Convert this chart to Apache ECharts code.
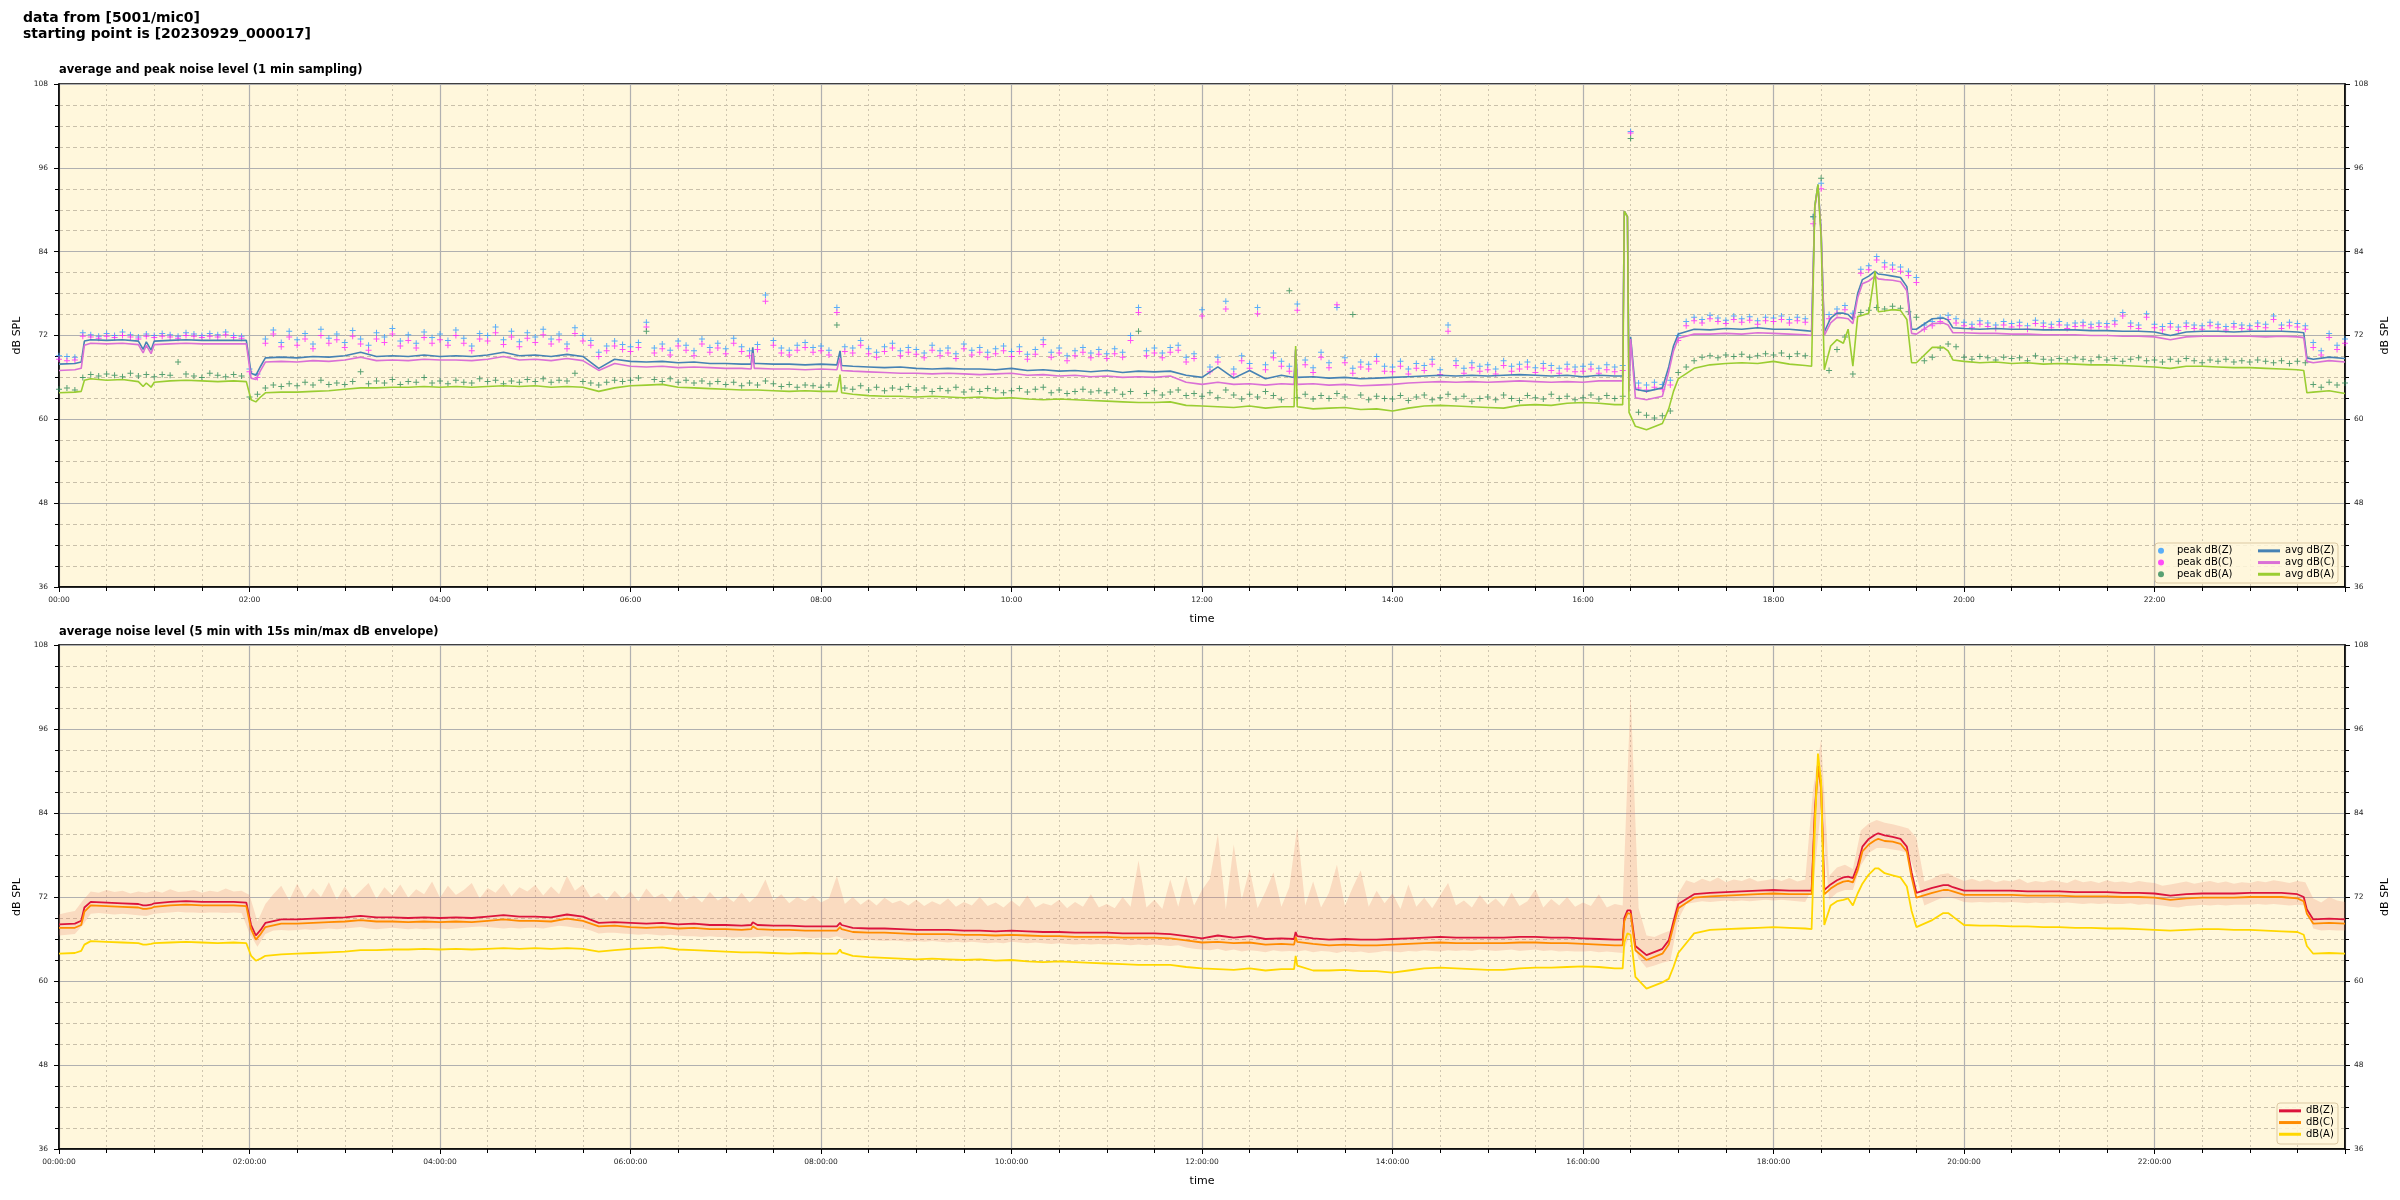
<!DOCTYPE html>
<html><head><meta charset="utf-8">
<script src="https://cdn.jsdelivr.net/npm/echarts@6/dist/echarts.min.js"></script>
<style>html,body{margin:0;padding:0;background:#fff}#c{width:2400px;height:1200px}</style>
</head><body><div id="c"></div>
<script>
// ---------- DATA (minutes since 00:00:17) ----------
const lineTimes = [0,10,14,16,20,30,40,50,53,55,58,60,
70,80,90,100,110,118,121,124,127,130,
140,150,160,170,180,190,200,210,220,230,240,250,260,270,280,290,300,310,320,330,340,350,360,
370,380,390,400,410,420,430,436,437,438,440,450,460,470,480,490,491,492,493,
500,510,520,530,540,550,560,570,580,590,600,610,620,630,640,650,660,670,680,690,700,710,720,730,740,750,760,770,
778,779,780,
790,800,810,820,830,840,850,860,870,880,890,900,910,920,930,940,950,960,970,980,
985,986,988,989,990,993,1000,1010,1014,1017,1020,
1030,1040,1050,1060,1070,1080,1090,1100,
1104,1106,1108,1110,1112,1116,1120,1124,1127,1130,1133,1136,1140,1144,1146,1150,1155,1160,1164,1167,1170,1180,1187,1190,1193,1200,
1210,1220,1230,1240,1250,1260,1270,1280,1290,1300,1310,1320,1330,1340,1350,1360,1370,1380,1390,1400,1410,
1414,1416,1420,1430,1440];

// top chart: 1-min averages
const avgZ = [67.9,68.0,68.2,71.2,71.4,71.3,71.4,71.2,70.0,71.1,69.9,71.2,
71.3,71.4,71.3,71.3,71.3,71.3,66.6,66.3,67.6,68.8,
68.9,68.8,69.0,68.9,69.1,69.6,69.0,69.1,69.0,69.2,69.0,69.1,69.0,69.2,69.6,69.1,69.2,69.0,69.3,69.0,67.3,68.6,68.3,
68.2,68.3,68.1,68.2,68.0,68.0,67.9,67.9,70.3,68.0,68.0,67.9,67.9,67.8,67.9,67.8,67.8,69.8,67.7,
67.6,67.5,67.4,67.5,67.3,67.2,67.3,67.2,67.2,67.1,67.3,67.0,67.1,66.9,67.0,66.8,67.0,66.7,66.9,66.8,66.9,66.3,66.0,67.5,65.9,67.0,65.8,66.3,
66.0,70.0,66.0,
66.1,65.9,66.0,65.8,65.9,66.0,66.1,66.2,66.3,66.2,66.3,66.2,66.3,66.4,66.3,66.2,66.3,66.1,66.3,66.2,
66.2,89.8,89.0,64.5,71.8,64.3,64.0,64.5,67.5,70.5,72.2,
72.9,72.8,73.0,72.9,73.1,72.9,72.9,72.7,
72.6,90.5,93.6,87.0,72.5,74.5,75.2,75.2,75.0,74.3,78.0,80.0,80.5,81.2,80.8,80.7,80.5,80.3,79.0,72.9,72.9,74.4,74.5,74.2,73.1,73.0,
72.9,73.0,72.9,72.9,72.8,72.8,72.8,72.7,72.7,72.6,72.6,72.5,72.0,72.5,72.6,72.6,72.5,72.6,72.6,72.6,72.5,
72.4,68.8,68.6,68.9,68.7];
const avgC = [67.0,67.1,67.3,70.6,70.9,70.8,70.9,70.7,69.5,70.6,69.4,70.7,
70.8,70.9,70.8,70.8,70.8,70.8,65.9,65.7,67.0,68.2,
68.3,68.2,68.4,68.3,68.5,68.9,68.4,68.5,68.4,68.6,68.5,68.5,68.4,68.6,69.0,68.5,68.6,68.4,68.7,68.4,67.0,68.0,67.6,
67.5,67.6,67.4,67.5,67.4,67.3,67.3,67.2,69.5,67.3,67.3,67.2,67.2,67.1,67.2,67.1,67.1,68.8,67.0,
66.9,66.8,66.7,66.6,66.6,66.5,66.6,66.5,66.4,66.5,66.6,66.3,66.4,66.2,66.3,66.1,66.2,66.0,66.1,66.0,66.2,65.3,65.0,65.3,65.0,65.1,64.9,65.1,
65.0,70.0,65.0,
65.1,64.9,65.0,64.8,64.9,65.0,65.2,65.3,65.4,65.3,65.4,65.3,65.4,65.5,65.4,65.3,65.4,65.3,65.5,65.5,
65.5,89.8,89.0,64.0,71.5,63.1,62.8,63.3,66.8,69.8,71.6,
72.2,72.2,72.3,72.2,72.4,72.3,72.2,72.1,
72.0,90.2,93.3,86.8,72.0,73.8,74.6,74.5,74.4,73.7,77.4,79.4,79.8,80.5,80.1,80.0,79.9,79.7,78.4,72.3,72.2,73.7,73.8,73.5,72.4,72.4,
72.3,72.3,72.2,72.2,72.1,72.1,72.1,72.0,72.0,71.9,71.9,71.8,71.4,71.8,71.9,71.9,71.9,71.9,71.8,71.9,71.8,
71.7,68.3,68.1,68.4,68.2];
const avgA = [63.8,63.9,64.0,65.6,65.8,65.6,65.7,65.4,64.7,65.2,64.6,65.3,
65.5,65.6,65.5,65.4,65.5,65.4,62.8,62.5,63.2,63.8,
63.9,63.9,64.0,64.1,64.3,64.5,64.5,64.6,64.6,64.7,64.6,64.7,64.6,64.7,64.8,64.7,64.8,64.6,64.7,64.6,64.0,64.5,64.8,
64.9,65.0,64.6,64.5,64.4,64.3,64.2,64.2,64.3,64.2,64.2,64.1,64.0,64.1,64.0,64.0,64.0,66.4,63.8,
63.6,63.4,63.3,63.3,63.2,63.3,63.2,63.1,63.2,63.0,63.1,62.9,62.8,62.9,62.8,62.7,62.6,62.5,62.4,62.4,62.5,62.0,61.9,61.8,61.7,61.9,61.6,61.8,
61.8,70.5,61.8,
61.5,61.6,61.7,61.4,61.5,61.2,61.6,61.9,62.0,61.9,61.8,61.7,61.6,62.0,62.1,62.0,62.3,62.4,62.3,62.1,
62.1,89.8,89.0,61.0,60.5,59.0,58.5,59.4,61.5,64.0,65.8,
67.3,67.8,68.0,68.1,68.0,68.3,67.9,67.7,
67.6,90.4,93.6,86.0,67.1,70.5,71.4,70.9,72.9,67.6,74.7,74.9,75.2,81.2,75.4,75.5,75.7,75.6,74.3,68.1,68.1,70.3,70.3,69.8,68.5,68.3,
68.1,68.2,68.0,68.1,67.9,68.0,67.9,67.8,67.8,67.7,67.6,67.5,67.3,67.6,67.6,67.5,67.4,67.4,67.3,67.2,67.1,
67.0,63.8,63.9,64.1,63.7];

// bottom chart: 5-min averages
const lvlZ = [68.1,68.2,68.6,70.5,71.3,71.2,71.1,71.0,70.8,70.8,70.9,71.1,
71.3,71.4,71.3,71.3,71.3,71.2,68.0,66.5,67.3,68.3,
68.8,68.8,68.9,69.0,69.1,69.3,69.1,69.1,69.0,69.1,69.0,69.1,69.0,69.2,69.4,69.2,69.2,69.1,69.5,69.2,68.3,68.4,68.3,
68.2,68.3,68.1,68.2,68.0,68.0,67.9,68.0,68.4,68.2,68.0,67.9,67.9,67.8,67.8,67.8,67.8,68.3,68.0,
67.6,67.5,67.5,67.4,67.3,67.3,67.3,67.2,67.2,67.1,67.2,67.1,67.0,67.0,66.9,66.9,66.9,66.8,66.8,66.8,66.7,66.4,66.1,66.5,66.2,66.4,66.0,66.1,
66.0,67.0,66.4,
66.1,65.9,66.0,65.9,65.9,66.0,66.1,66.2,66.3,66.2,66.2,66.2,66.2,66.3,66.3,66.2,66.2,66.1,66.0,65.9,
65.9,69.0,70.1,70.1,70.1,65.0,63.7,64.6,65.8,68.5,71.0,
72.4,72.6,72.7,72.8,72.9,73.0,72.9,72.9,
72.9,84.0,91.0,88.0,73.0,73.8,74.4,74.8,74.9,74.7,76.5,79.2,80.3,80.9,81.1,80.8,80.6,80.3,79.2,75.5,72.6,73.3,73.7,73.7,73.4,72.9,
72.9,72.9,72.9,72.8,72.8,72.8,72.7,72.7,72.7,72.6,72.6,72.5,72.2,72.4,72.5,72.5,72.5,72.6,72.6,72.6,72.4,
72.0,70.2,68.8,68.9,68.8];
const lvlC = [67.6,67.6,68.0,69.9,70.8,70.7,70.6,70.5,70.3,70.3,70.4,70.6,
70.8,70.9,70.8,70.8,70.8,70.7,67.4,65.9,66.7,67.7,
68.2,68.2,68.3,68.4,68.5,68.7,68.5,68.5,68.4,68.5,68.4,68.5,68.4,68.6,68.8,68.6,68.6,68.5,68.9,68.6,67.8,67.9,67.7,
67.6,67.7,67.5,67.6,67.4,67.4,67.3,67.4,67.8,67.6,67.4,67.3,67.3,67.2,67.2,67.2,67.2,67.7,67.4,
67.0,66.9,66.9,66.8,66.7,66.7,66.7,66.6,66.6,66.5,66.6,66.5,66.4,66.4,66.3,66.3,66.3,66.2,66.2,66.2,66.1,65.8,65.5,65.6,65.4,65.5,65.2,65.3,
65.2,66.3,65.6,
65.3,65.1,65.2,65.1,65.1,65.2,65.3,65.4,65.5,65.4,65.4,65.4,65.4,65.5,65.5,65.4,65.4,65.3,65.2,65.1,
65.1,68.5,69.7,69.7,69.6,64.4,63.0,63.9,65.2,67.9,70.4,
71.9,72.1,72.2,72.3,72.4,72.5,72.4,72.4,
72.4,83.5,90.5,87.4,72.4,73.2,73.8,74.2,74.3,74.1,75.8,78.5,79.5,80.1,80.3,80.0,79.9,79.6,78.5,74.8,71.9,72.6,73.0,73.0,72.8,72.3,
72.3,72.3,72.3,72.2,72.2,72.2,72.1,72.1,72.1,72.0,72.0,71.9,71.6,71.8,71.9,71.9,71.9,72.0,72.0,72.0,71.8,
71.4,69.6,68.2,68.3,68.2];
const lvlA = [63.9,64.0,64.3,65.2,65.7,65.6,65.5,65.4,65.2,65.2,65.3,65.4,
65.5,65.6,65.5,65.4,65.5,65.4,63.6,62.9,63.2,63.6,
63.8,63.9,64.0,64.1,64.2,64.4,64.4,64.5,64.5,64.6,64.5,64.6,64.5,64.6,64.7,64.6,64.7,64.6,64.7,64.6,64.2,64.4,64.6,
64.7,64.8,64.5,64.4,64.3,64.2,64.1,64.1,64.2,64.1,64.1,64.0,63.9,64.0,63.9,63.9,63.9,64.5,64.1,
63.6,63.4,63.3,63.2,63.1,63.2,63.1,63.0,63.1,62.9,63.0,62.8,62.7,62.8,62.7,62.6,62.5,62.4,62.3,62.3,62.3,62.0,61.8,61.7,61.6,61.8,61.5,61.7,
61.7,63.6,62.2,
61.5,61.5,61.6,61.4,61.4,61.2,61.5,61.8,61.9,61.8,61.7,61.6,61.6,61.8,61.9,61.9,62.0,62.1,62.0,61.8,
61.8,65.5,66.8,66.8,66.6,60.6,58.9,59.8,60.3,62.0,64.0,
66.8,67.3,67.4,67.5,67.6,67.7,67.6,67.5,
67.4,81.5,92.5,88.5,68.0,70.8,71.4,71.6,71.8,70.8,72.5,73.9,75.2,76.1,76.1,75.4,75.1,74.8,73.5,70.0,67.7,68.7,69.7,69.7,69.2,68.0,
67.9,67.9,67.8,67.8,67.7,67.7,67.6,67.6,67.5,67.5,67.4,67.3,67.2,67.3,67.4,67.4,67.3,67.3,67.2,67.1,67.0,
66.6,65.0,63.9,64.0,63.9];

// 5-minute grid (one row per hour) for peaks and the 15s min/max envelope
const peakTimes = Array.from({length: 289}, (_, i) => i * 5);
const peakZ = [69.1,69.0,68.9,72.4,72.1,71.9,72.3,72.0,72.5,72.1,71.8,72.2,
72.0,72.3,72.1,71.9,72.4,72.2,72.0,72.3,72.1,72.5,72.0,71.9,
67.2,66.5,71.5,72.8,71.0,72.6,71.4,72.3,70.8,72.9,71.6,72.2,
71.0,72.7,71.5,70.6,72.4,71.8,73.0,71.2,72.1,70.9,72.5,71.7,
72.2,71.3,72.8,71.6,70.5,72.3,72.0,73.2,71.4,72.6,71.1,72.4,
71.8,72.9,71.5,72.2,70.8,73.1,72.0,71.3,69.6,70.5,71.2,70.7,
70.4,71.0,73.9,70.2,70.8,69.9,71.2,70.6,69.8,71.5,70.3,70.9,
70.1,71.6,70.4,69.8,70.7,77.8,71.3,70.2,69.9,70.6,71.0,70.3,
70.5,69.9,76.0,70.4,70.2,71.3,70.1,69.6,70.4,70.9,69.8,70.3,
70.0,69.5,70.6,69.8,70.2,69.4,70.8,69.9,70.3,69.6,70.1,70.5,
69.7,70.4,69.3,70.0,71.4,69.6,70.2,69.1,69.8,70.3,69.5,70.0,
69.4,70.1,69.6,72.0,76.0,69.8,70.2,69.5,70.3,70.6,68.9,69.4,
75.7,67.5,68.9,76.9,67.2,69.1,68.0,76.0,67.8,69.5,68.3,67.6,
76.5,68.5,67.4,69.6,68.1,76.0,68.8,67.3,68.2,67.9,69.0,67.6,
67.5,68.3,67.2,68.0,67.7,68.6,67.1,73.5,68.4,67.3,68.1,67.6,
67.8,67.2,68.4,67.6,67.9,68.2,67.4,68.0,67.7,67.3,67.9,67.5,
67.6,67.9,67.3,67.8,67.5,67.7,101.2,65.2,64.9,65.3,65.0,65.6,
72.0,74.0,74.6,74.3,74.9,74.5,74.2,74.8,74.4,74.7,74.1,74.6,
74.5,74.8,74.3,74.6,74.4,89.0,93.8,75.0,75.8,76.3,75.2,81.5,
82.0,83.3,82.4,82.1,81.8,81.2,80.3,73.5,74.0,74.6,74.9,74.4,
73.9,73.6,74.1,73.8,73.5,74.0,73.7,73.9,73.4,74.2,73.8,73.6,
74.0,73.5,73.8,73.9,73.6,73.8,73.7,74.1,75.3,73.8,73.5,75.1,
73.6,73.3,73.7,73.2,73.8,73.5,73.4,73.9,73.6,73.3,73.7,73.5,
73.4,73.8,73.6,74.8,73.5,73.9,73.7,73.4,71.0,69.8,72.3,70.6,
71.5];
const peakC = [68.6,68.4,68.5,71.9,71.8,71.6,71.9,71.7,72.0,71.8,71.5,71.9,
71.7,71.9,71.8,71.6,72.0,71.9,71.7,71.9,71.8,72.1,71.7,71.6,
66.8,66.0,70.9,72.2,70.4,71.8,70.6,71.5,70.1,72.0,70.9,71.4,
70.3,71.9,70.8,69.9,71.5,71.0,72.2,70.5,71.3,70.2,71.7,70.9,
71.4,70.6,72.0,70.9,69.8,71.5,71.2,72.4,70.7,71.8,70.4,71.6,
71.0,72.1,70.8,71.4,70.1,72.3,71.2,70.6,69.0,69.8,70.5,70.0,
69.7,70.3,73.2,69.5,70.1,69.2,70.5,69.9,69.1,70.8,69.6,70.2,
69.4,70.9,69.7,69.1,70.0,76.9,70.6,69.5,69.2,69.9,70.3,69.6,
69.8,69.2,75.3,69.7,69.5,70.6,69.4,68.9,69.7,70.2,69.1,69.6,
69.3,68.8,69.9,69.1,69.5,68.7,70.1,69.2,69.6,68.9,69.4,69.8,
69.0,69.7,68.6,69.3,70.7,68.9,69.5,68.4,69.1,69.6,68.8,69.3,
68.7,69.4,68.9,71.3,75.3,69.1,69.5,68.8,69.6,69.9,68.2,68.7,
74.8,66.8,68.2,75.8,66.5,68.4,67.3,75.1,67.1,68.8,67.6,66.9,
75.6,67.8,66.7,68.9,67.4,76.4,68.1,66.6,67.5,67.2,68.3,66.9,
66.8,67.6,66.5,67.3,67.0,67.9,66.4,72.6,67.7,66.6,67.4,66.9,
67.1,66.5,67.7,66.9,67.2,67.5,66.7,67.3,67.0,66.6,67.2,66.8,
66.9,67.2,66.6,67.1,66.8,67.0,101.0,64.5,64.2,64.6,64.3,64.9,
71.3,73.4,74.1,73.8,74.4,74.0,73.7,74.3,73.9,74.2,73.6,74.1,
74.0,74.3,73.8,74.1,73.9,88.0,93.0,74.4,75.2,75.7,74.6,80.9,
81.4,82.8,81.8,81.5,81.2,80.6,79.6,72.9,73.4,74.0,74.3,73.8,
73.4,73.1,73.6,73.3,73.0,73.5,73.2,73.4,72.9,73.7,73.3,73.1,
73.5,73.0,73.3,73.4,73.1,73.3,73.2,73.6,74.8,73.3,73.0,74.6,
73.1,72.8,73.2,72.7,73.3,73.0,72.9,73.4,73.1,72.8,73.2,73.0,
72.9,73.3,73.1,74.3,73.0,73.4,73.2,72.9,70.3,69.2,71.7,70.0,
70.9];
const peakA = [64.3,64.5,64.2,66.0,66.4,66.2,66.5,66.3,66.1,66.6,66.2,66.4,
66.1,66.4,66.3,68.2,66.5,66.2,66.0,66.6,66.3,66.1,66.4,66.2,
63.2,63.6,64.5,64.9,64.7,65.1,64.8,65.3,64.9,65.6,65.0,65.2,
65.0,65.4,66.8,65.1,65.5,65.2,65.7,65.0,65.4,65.3,66.0,65.2,
65.5,65.1,65.6,65.3,65.2,65.8,65.4,65.6,65.1,65.5,65.3,65.7,
65.4,65.8,65.3,65.6,65.5,66.6,65.4,65.2,64.9,65.3,65.6,65.4,
65.6,65.9,72.6,65.7,65.4,65.8,65.3,65.6,65.2,65.5,65.1,65.4,
65.0,65.3,64.8,65.2,64.9,65.5,65.1,64.7,65.0,64.6,64.9,64.8,
64.6,64.9,73.5,64.5,64.3,64.8,64.2,64.6,64.1,64.5,64.3,64.7,
64.2,64.5,64.0,64.4,64.1,64.6,63.9,64.3,64.0,64.4,64.2,63.8,
64.1,64.4,63.9,64.3,64.6,63.8,64.2,63.7,64.0,64.3,63.9,64.1,
63.8,64.2,63.6,64.0,72.6,63.7,64.1,63.5,63.9,64.2,63.4,63.7,
63.3,63.8,63.1,64.2,63.5,62.9,63.6,63.2,64.0,63.4,62.8,78.4,
63.1,63.6,62.9,63.4,63.0,63.7,63.2,75.0,63.5,62.8,63.3,63.0,
62.9,63.4,62.7,63.2,63.5,62.8,63.1,63.6,62.9,63.3,62.6,63.0,
63.2,62.8,63.5,63.0,62.7,63.4,63.1,62.9,63.6,63.0,63.3,62.8,
63.1,63.5,62.9,63.4,63.0,63.3,100.2,61.0,60.6,60.2,60.5,61.2,
66.7,67.5,68.4,68.9,69.1,68.8,69.2,69.0,69.3,68.9,69.1,69.4,
69.2,69.5,69.0,69.4,69.1,89.0,94.5,67.0,70.0,71.8,66.5,75.3,
75.6,76.0,75.8,76.2,75.9,75.4,74.6,68.4,68.9,70.2,70.8,70.4,
68.9,68.6,69.0,68.8,68.5,68.9,68.7,68.8,68.4,69.1,68.6,68.5,
68.7,68.5,68.8,68.6,68.4,68.9,68.5,68.7,68.3,68.6,68.8,68.4,
68.5,68.2,68.6,68.3,68.7,68.4,68.1,68.5,68.3,68.6,68.2,68.4,
68.2,68.5,68.3,68.1,68.4,68.0,68.3,68.1,65.0,64.6,65.3,64.9,
65.2];
const envLow = [66.5,66.6,66.7,68.0,69.6,69.7,69.6,69.5,69.6,69.5,69.4,69.3,
69.6,69.7,69.8,69.9,69.8,69.8,69.7,69.8,69.8,69.7,69.8,69.7,
66.8,64.9,66.7,67.2,67.3,67.2,67.3,67.4,67.3,67.4,67.5,67.4,
67.5,67.6,67.7,67.5,67.4,67.5,67.6,67.5,67.4,67.5,67.4,67.5,
67.5,67.4,67.5,67.6,67.7,67.8,67.7,67.6,67.5,67.6,67.5,67.6,
67.6,67.5,67.7,67.9,67.8,67.6,67.5,67.2,66.8,66.9,66.9,66.8,
66.7,66.6,66.7,66.6,66.5,66.6,66.5,66.4,66.4,66.3,66.4,66.3,
66.3,66.2,66.3,66.2,66.3,66.4,66.3,66.2,66.2,66.3,66.2,66.1,
66.2,66.1,66.4,66.0,65.9,65.8,65.9,65.8,65.7,65.8,65.7,65.6,
65.7,65.6,65.7,65.6,65.5,65.6,65.5,65.6,65.5,65.4,65.5,65.4,
65.6,65.5,65.4,65.5,65.4,65.3,65.4,65.3,65.2,65.3,65.2,65.3,
65.2,65.3,65.2,65.1,65.2,65.1,65.2,65.1,65.0,65.1,64.8,64.6,
64.5,64.4,64.6,64.3,64.5,64.2,64.4,64.3,64.1,64.4,64.2,64.3,
64.2,64.4,64.1,64.3,64.2,64.0,64.3,64.1,64.2,64.0,64.1,64.3,
64.2,64.1,64.3,64.2,64.4,64.3,64.2,64.4,64.3,64.4,64.3,64.5,
64.4,64.3,64.4,64.5,64.3,64.4,64.5,64.3,64.4,64.2,64.3,64.2,
64.2,64.3,64.1,64.2,64.1,64.0,66.8,63.2,61.9,62.2,62.6,62.9,
68.8,71.0,71.2,71.4,71.3,71.4,71.5,71.4,71.5,71.4,71.5,71.6,
71.5,71.6,71.5,71.4,71.3,73.5,85.0,71.6,72.6,73.0,73.0,76.5,
78.3,79.0,79.0,78.8,78.6,78.2,75.0,70.8,71.3,71.8,72.0,71.7,
71.3,71.2,71.3,71.2,71.3,71.2,71.3,71.2,71.1,71.2,71.1,71.2,
71.1,71.2,71.1,71.0,71.1,71.0,71.1,71.0,71.0,71.1,70.9,71.0,
70.9,70.8,70.6,70.5,70.7,70.8,70.9,70.8,70.9,70.8,70.9,70.9,
70.9,71.0,70.9,71.0,70.9,70.8,70.9,70.8,67.5,67.2,67.3,67.2,
67.2];
const envHigh = [69.5,69.8,70.0,71.5,72.8,72.6,73.0,72.7,72.9,72.5,72.8,72.6,
72.9,72.6,73.1,72.7,72.8,73.0,72.6,72.9,72.7,73.2,72.8,72.9,
72.3,68.5,71.0,72.4,73.6,71.5,73.9,71.8,73.2,72.0,74.1,71.6,
73.5,71.8,72.9,74.0,71.7,73.4,72.2,73.8,71.9,73.1,72.4,74.2,
71.9,73.6,72.3,73.0,74.0,71.8,73.3,72.6,73.9,72.1,73.4,72.8,
73.7,72.2,73.5,72.4,75.0,72.9,73.8,71.9,72.6,71.5,72.9,71.7,
72.8,71.4,73.2,71.9,72.5,71.3,73.0,71.6,72.2,71.2,72.7,71.5,
72.1,71.3,72.6,71.2,72.3,74.5,71.5,72.4,71.1,72.0,71.4,72.2,
71.2,71.8,75.0,71.0,72.0,70.9,71.7,70.8,71.9,71.1,71.5,70.8,
71.6,70.7,71.4,70.9,71.8,70.6,71.3,70.8,72.0,70.7,71.2,70.5,
71.5,70.6,72.2,70.5,71.1,70.8,71.6,70.4,71.3,70.6,72.4,70.5,
71.0,70.4,72.0,70.6,77.2,70.5,71.6,70.3,74.5,70.6,75.0,70.8,
73.0,74.6,81.0,70.2,79.5,71.6,76.0,70.4,72.8,75.5,70.6,73.4,
82.0,70.8,74.2,70.5,72.6,76.6,70.7,73.4,75.8,70.6,72.9,71.1,
72.5,70.3,73.8,70.6,71.9,70.4,72.2,74.0,70.8,71.5,70.5,72.3,
70.9,71.8,70.6,72.6,70.7,71.4,73.1,70.5,71.7,70.8,72.0,70.6,
71.2,70.7,72.4,70.5,71.0,70.8,101.2,70.4,66.5,66.3,66.8,67.2,
72.5,74.4,74.0,74.6,74.2,74.8,74.1,74.5,74.3,74.7,74.2,74.4,
74.6,74.3,74.7,74.2,74.5,87.5,94.5,75.0,76.2,76.6,76.0,81.5,
82.5,83.0,82.6,82.4,82.1,81.8,80.5,74.2,74.6,75.2,75.4,74.8,
74.3,74.6,74.2,74.5,74.1,74.4,74.2,74.6,74.0,74.3,74.1,74.4,
74.2,74.0,74.5,74.1,74.3,74.0,74.4,74.1,74.2,74.0,74.3,74.1,
74.0,73.6,73.8,74.0,74.2,73.9,74.1,74.3,74.0,74.2,73.9,74.1,
74.0,74.3,74.1,74.4,74.2,74.0,74.3,74.1,71.8,71.2,72.0,71.5,
71.3];

// ---------- sanity ----------
[avgZ,avgC,avgA,lvlZ,lvlC,lvlA].forEach((a,k)=>{ if(a.length!==lineTimes.length) throw new Error('line array '+k+' len '+a.length+' vs '+lineTimes.length); });
[peakZ,peakC,peakA,envLow,envHigh].forEach((a,k)=>{ if(a.length!==peakTimes.length) throw new Error('peak array '+k+' len '+a.length); });

// ---------- chart ----------
const FONT = 'DejaVu Sans';
const pair = (ts, vs) => ts.map((t, i) => [t, vs[i]]);
const pad = n => String(n).padStart(2, '0');
const fmtHM = v => pad(Math.floor(v / 60)) + ':' + pad(v % 60);
const fmtHMS = v => fmtHM(v) + ':00';
const PLUS = 'path://M2.5,0H3.5V2.5H6V3.5H3.5V6H2.5V3.5H0V2.5H2.5Z';

function xAxis(gridIndex, fmt) {
  return {
    type: 'value', gridIndex, min: 0, max: 1440, interval: 120,
    name: 'time', nameLocation: 'middle', nameGap: 27,
    nameTextStyle: { fontFamily: FONT, fontSize: 11, color: '#000' },
    axisLine: { show: true, onZero: false, lineStyle: { color: '#000', width: 1.5 } },
    axisTick: { show: true, length: 5, lineStyle: { color: '#000' } },
    minorTick: { show: true, splitNumber: 4, length: 4, lineStyle: { color: '#000' } },
    axisLabel: { fontFamily: FONT, fontSize: 7.5, color: '#222', margin: 9, formatter: fmt, showMaxLabel: false },
    splitLine: { show: true, lineStyle: { color: '#b0b0b0', width: 1.2 } },
    minorSplitLine: { show: true, lineStyle: { color: '#cfc6b0', width: 1, type: [2, 3] } }
  };
}
function yAxis(gridIndex, pos) {
  const right = pos === 'right';
  return {
    type: 'value', gridIndex, position: pos, min: 36, max: 108, interval: 12,
    name: 'dB SPL', nameLocation: 'middle', nameGap: right ? 28 : 34, nameRotate: 90,
    nameTextStyle: { fontFamily: FONT, fontSize: 11, color: '#000' },
    axisLine: { show: true, onZero: false, lineStyle: { color: '#000', width: 1.5 } },
    axisTick: { show: true, length: 5, lineStyle: { color: '#000' } },
    minorTick: { show: true, splitNumber: 4, length: 4, lineStyle: { color: '#000' } },
    axisLabel: { fontFamily: FONT, fontSize: 7.5, color: '#222', margin: right ? 9 : 11 },
    splitLine: { show: !right, lineStyle: { color: '#b0b0b0', width: 1.2 } },
    minorSplitLine: { show: !right, lineStyle: { color: '#c9c0aa', width: 1, type: [4, 3] } }
  };
}
function lineS(name, xi, yi, ts, vs, color, w) {
  return { name, type: 'line', xAxisIndex: xi, yAxisIndex: yi, data: pair(ts, vs),
    showSymbol: false, symbol: 'none', lineStyle: { color, width: w }, itemStyle: { color },
    animation: false, clip: true };
}
function peakS(name, vs, color) {
  return { name, type: 'scatter', xAxisIndex: 0, yAxisIndex: 0, data: pair(peakTimes, vs),
    symbol: PLUS, symbolSize: 6, itemStyle: { color, opacity: 0.8 }, animation: false, clip: true };
}

const chart = echarts.init(document.getElementById('c'), null, { renderer: 'canvas' });
chart.setOption({
  backgroundColor: '#ffffff',
  animation: false,
  textStyle: { fontFamily: FONT },
  title: [
    { text: 'data from [5001/mic0]\nstarting point is [20230929_000017]', left: 23, top: 10, padding: 0,
      textStyle: { fontFamily: FONT, fontSize: 14, fontWeight: 'bold', color: '#000', lineHeight: 16 } },
    { text: 'average and peak noise level (1 min sampling)', left: 59, top: 63, padding: 0,
      textStyle: { fontFamily: FONT, fontSize: 11.5, fontWeight: 'bold', color: '#000', lineHeight: 14 } },
    { text: 'average noise level (5 min with 15s min/max dB envelope)', left: 59, top: 625, padding: 0,
      textStyle: { fontFamily: FONT, fontSize: 11.5, fontWeight: 'bold', color: '#000', lineHeight: 14 } }
  ],
  grid: [
    { left: 59, top: 84, width: 2286, height: 503, show: true, backgroundColor: '#fff7dc', borderColor: '#000', borderWidth: 1.5 },
    { left: 59, top: 645, width: 2286, height: 504, show: true, backgroundColor: '#fff7dc', borderColor: '#000', borderWidth: 1.5 }
  ],
  xAxis: [xAxis(0, fmtHM), xAxis(1, fmtHMS)],
  yAxis: [yAxis(0, 'left'), yAxis(0, 'right'), yAxis(1, 'left'), yAxis(1, 'right')],
  legend: [
    { data: ['peak dB(Z)', 'peak dB(C)', 'peak dB(A)'], orient: 'vertical', left: 2158, top: 545, padding: 0,
      itemGap: 0, itemWidth: 22, itemHeight: 6, icon: 'circle', z: 8, selectedMode: false,
      textStyle: { fontFamily: FONT, fontSize: 10, color: '#000', lineHeight: 11.7 } },
    { data: ['avg dB(Z)', 'avg dB(C)', 'avg dB(A)'], orient: 'vertical', left: 2258, top: 545, padding: 0,
      itemGap: 0, itemWidth: 22, itemHeight: 3, icon: 'rect', z: 8, selectedMode: false,
      textStyle: { fontFamily: FONT, fontSize: 10, color: '#000', lineHeight: 11.7 } },
    { data: ['dB(Z)', 'dB(C)', 'dB(A)'], orient: 'vertical', left: 2279, top: 1105, padding: 0,
      itemGap: 0, itemWidth: 22, itemHeight: 3, icon: 'rect', z: 8, selectedMode: false,
      textStyle: { fontFamily: FONT, fontSize: 10, color: '#000', lineHeight: 11.7 } }
  ],
  graphic: [
    { type: 'rect', shape: { x: 2155, y: 543, width: 183, height: 40, r: 3 }, z: 7,
      style: { fill: 'rgba(255,247,220,0.85)', stroke: '#dcc9a3', lineWidth: 1 } },
    { type: 'rect', shape: { x: 2277, y: 1103, width: 61, height: 41, r: 3 }, z: 7,
      style: { fill: 'rgba(255,247,220,0.85)', stroke: '#dcc9a3', lineWidth: 1 } }
  ],
  series: [
    peakS('peak dB(Z)', peakZ, '#2f9bff'),
    peakS('peak dB(C)', peakC, '#ff22ff'),
    peakS('peak dB(A)', peakA, '#2e8b57'),
    lineS('avg dB(Z)', 0, 0, lineTimes, avgZ, '#4682b4', 1.6),
    lineS('avg dB(C)', 0, 0, lineTimes, avgC, '#da70d6', 1.6),
    lineS('avg dB(A)', 0, 0, lineTimes, avgA, '#9acd32', 1.6),
    { type: 'custom', name: 'envelope', xAxisIndex: 1, yAxisIndex: 2, data: [[720, 70]], clip: true, silent: true,
      animation: false,
      renderItem: (params, api) => {
        const pts = [];
        for (let i = 0; i < peakTimes.length; i++) pts.push(api.coord([peakTimes[i], envHigh[i]]));
        for (let i = peakTimes.length - 1; i >= 0; i--) pts.push(api.coord([peakTimes[i], envLow[i]]));
        return { type: 'polygon', shape: { points: pts }, style: { fill: 'rgba(236,130,105,0.24)' } };
      } },
    lineS('dB(Z)', 1, 2, lineTimes, lvlZ, '#dc143c', 1.8),
    lineS('dB(C)', 1, 2, lineTimes, lvlC, '#ff8c00', 1.8),
    lineS('dB(A)', 1, 2, lineTimes, lvlA, '#ffd700', 1.8)
  ]
});
</script></body></html>
